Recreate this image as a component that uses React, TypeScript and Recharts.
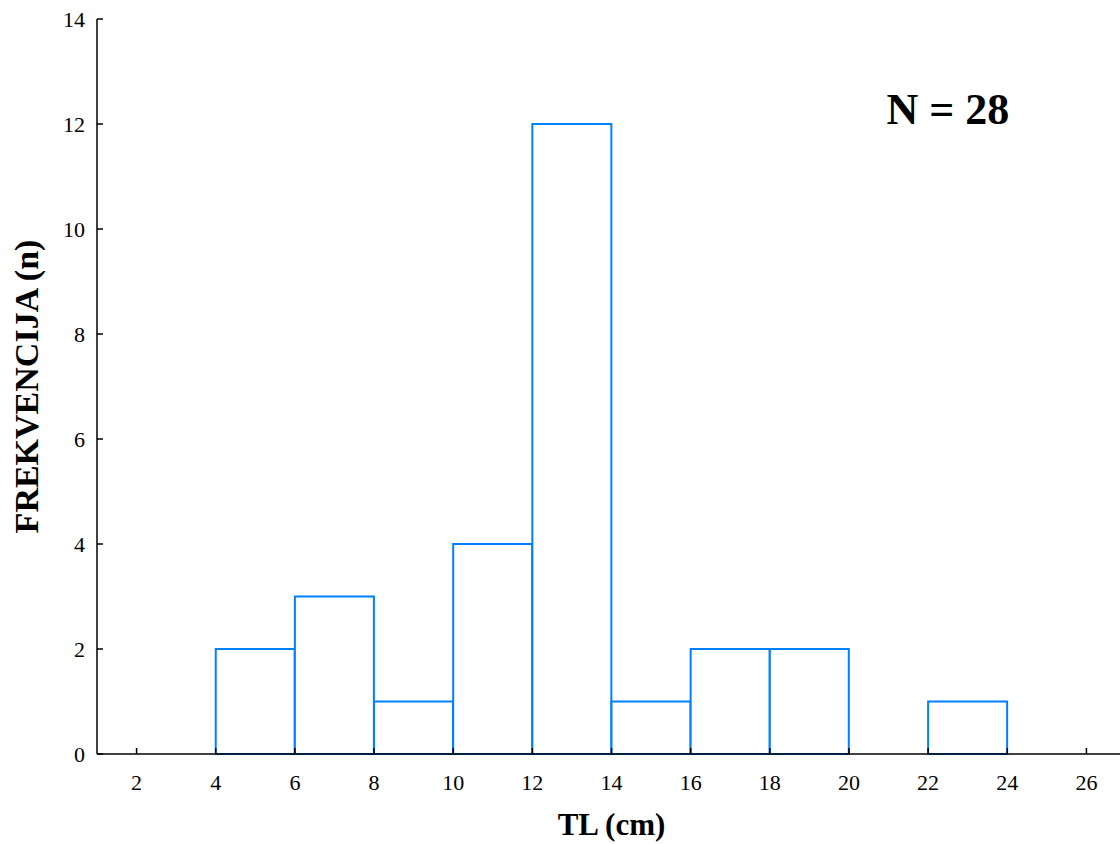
import React from "react";
import { ComposedChart, Bar, XAxis, YAxis, ReferenceDot } from "recharts";

// histogram of total length (TL), 2 cm classes
const binLow = [4, 6, 8, 10, 12, 14, 16, 18, 20, 22];
const binHigh = [6, 8, 10, 12, 14, 16, 18, 20, 22, 24];
const counts = [2, 3, 1, 4, 12, 1, 2, 2, 0, 1];

const xTicks = [2, 4, 6, 8, 10, 12, 14, 16, 18, 20, 22, 24, 26];
const yTicks = [0, 2, 4, 6, 8, 10, 12, 14];

const totalN = counts.reduce((s, c) => s + c, 0);

const data = binLow.map((lo, i) => ({
  mid: (lo + binHigh[i]) / 2,
  n: counts[i],
}));

const FONT = "'Liberation Serif', 'Times New Roman', serif";
const BLUE = "#0080ff";

export default function App() {
  // plot runs off the right edge in the original, so clip it
  return (
    <div
      style={{
        position: "absolute",
        left: 8,
        top: 8,
        width: 1112,
        height: 836,
        overflow: "hidden",
        fontFamily: FONT,
      }}
    >
      <ComposedChart
        width={1128}
        height={836}
        data={data}
        margin={{ top: 11, right: 10, bottom: 0, left: 0 }}
        barCategoryGap={0}
        barGap={0}
      >
        <XAxis
          dataKey="mid"
          type="number"
          domain={[1, 27]}
          ticks={xTicks}
          interval={0}
          height={90}
          tickSize={-6}
          tickMargin={26}
          axisLine={{ stroke: "#000", strokeWidth: 1.5 }}
          tickLine={{ stroke: "#000", strokeWidth: 1.5 }}
          tick={{ fill: "#000", fontSize: 22, fontFamily: FONT }}
          label={{
            content: (props: any) => {
              const vb = props.viewBox;
              return (
                <text
                  x={vb.x + vb.width / 2}
                  y={vb.y + 81}
                  textAnchor="middle"
                  fontFamily={FONT}
                  fontWeight="bold"
                  fontSize={31}
                  fill="#000"
                >
                  TL (cm)
                </text>
              );
            },
          }}
        />
        <XAxis
          xAxisId="top"
          dataKey="mid"
          type="number"
          orientation="top"
          domain={[1, 27]}
          ticks={xTicks}
          interval={0}
          height={0}
          tickSize={-6}
          tick={false}
          axisLine={{ stroke: "#000", strokeWidth: 1.5 }}
          tickLine={{ stroke: "#000", strokeWidth: 1.5 }}
        />
        <YAxis
          type="number"
          domain={[0, 14]}
          ticks={yTicks}
          interval={0}
          width={89}
          tickSize={-6}
          tickMargin={18}
          axisLine={{ stroke: "#000", strokeWidth: 1.5 }}
          tickLine={{ stroke: "#000", strokeWidth: 1.5 }}
          tick={{ fill: "#000", fontSize: 22, fontFamily: FONT }}
          label={{
            content: (props: any) => {
              const vb = props.viewBox;
              const cx = 18;
              const cy = vb.y + vb.height / 2;
              return (
                <text
                  x={cx}
                  y={cy}
                  transform={`rotate(-90, ${cx}, ${cy})`}
                  textAnchor="middle"
                  dominantBaseline="central"
                  fontFamily={FONT}
                  fontWeight="bold"
                  fontSize={34}
                  fill="#000"
                >
                  FREKVENCIJA (n)
                </text>
              );
            },
          }}
        />
        <Bar
          dataKey="n"
          fill="#fff"
          stroke={BLUE}
          strokeWidth={2}
          isAnimationActive={false}
        />
        <ReferenceDot
          x={22.5}
          y={12.27}
          r={1}
          fill="none"
          stroke="none"
          label={{
            content: (props: any) => {
              const vb = props.viewBox;
              return (
                <text
                  x={vb.x + vb.width / 2}
                  y={vb.y + vb.height / 2}
                  textAnchor="middle"
                  dominantBaseline="central"
                  fontFamily={FONT}
                  fontWeight="bold"
                  fontSize={44}
                  fill="#000"
                >
                  {`N = ${totalN}`}
                </text>
              );
            },
          }}
        />
      </ComposedChart>
    </div>
  );
}
